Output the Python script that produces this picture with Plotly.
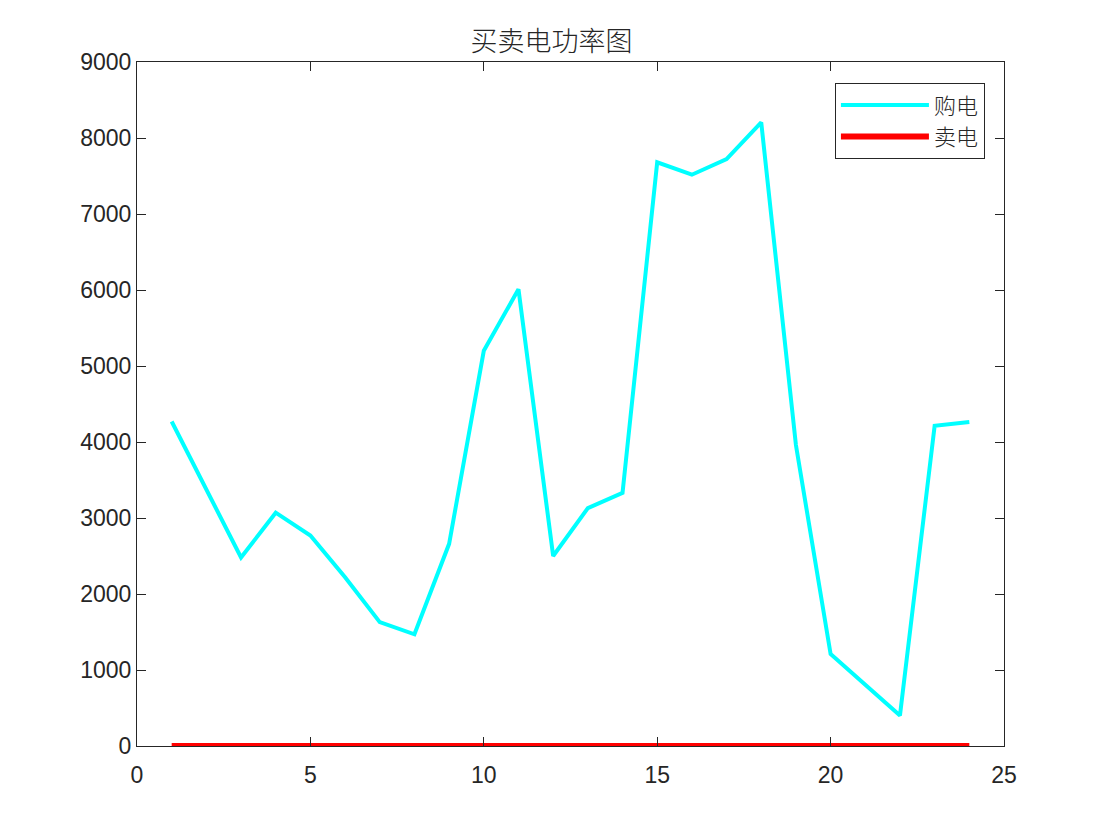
import plotly.graph_objects as go

hours = list(range(1, 25))
buy_power = [4270, 3380, 2480, 3070, 2770, 2220, 1630, 1470, 2660, 5200,
             6010, 2500, 3130, 3330, 7680, 7517, 7722, 8205, 3960, 1210,
             800, 400, 4214, 4263]
sell_power = [0] * 24

x_ticks = [0, 5, 10, 15, 20, 25]
y_ticks = [0, 1000, 2000, 3000, 4000, 5000, 6000, 7000, 8000, 9000]

fig = go.Figure()
fig.add_trace(go.Scatter(x=hours, y=buy_power, mode="lines", name="购电",
                         line=dict(color="#00FFFF", width=4)))
fig.add_trace(go.Scatter(x=hours, y=sell_power, mode="lines", name="卖电",
                         line=dict(color="#FF0000", width=6)))

axis_common = dict(showgrid=False, zeroline=False, showline=True, linecolor="#262626",
                   linewidth=1, mirror="ticks", ticks="inside", ticklen=9,
                   tickcolor="#262626", tickwidth=1,
                   tickfont=dict(family="Liberation Sans, Arial", size=23, color="#262626"))

W, H = 1087, 821
fig.update_layout(
    width=W, height=H,
    paper_bgcolor="white", plot_bgcolor="white",
    margin=dict(l=129, r=W - 129 - 867, t=54, b=H - 54 - 684),
    title=dict(text="买卖电功率图", x=0.5, xanchor="center", y=1 - (42 - 8) / H, yanchor="middle",
               font=dict(family="Noto Sans CJK SC", size=27, color="#262626", weight=300)),
    xaxis=dict(range=[0, 25], tickvals=x_ticks, ticklabelstandoff=8, **axis_common),
    yaxis=dict(range=[0, 9000], tickvals=y_ticks, **axis_common),
    legend=dict(x=0.978, y=0.969, xanchor="right", yanchor="top",
                bgcolor="white", bordercolor="#262626", borderwidth=1,
                font=dict(family="Noto Sans CJK SC", size=22, color="#262626", weight=300),
                itemwidth=88, tracegroupgap=0),
    showlegend=True,
)

fig.write_html("out.html")
